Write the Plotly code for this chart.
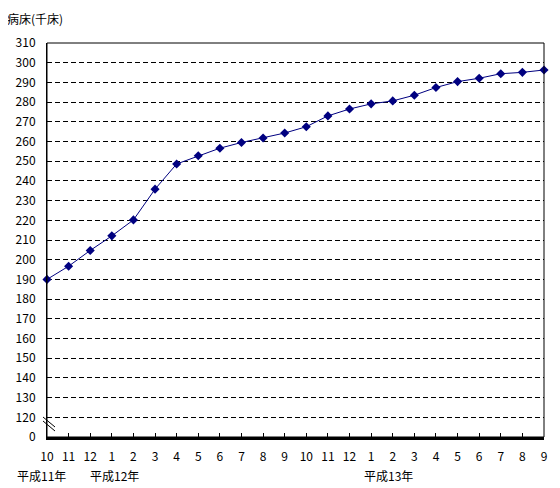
import plotly.graph_objects as go

month_labels = ["10", "11", "12", "1", "2", "3", "4", "5", "6", "7", "8", "9",
                "10", "11", "12", "1", "2", "3", "4", "5", "6", "7", "8", "9"]
beds = [190.0, 196.7, 204.7, 212.1, 220.2, 235.8, 248.6, 252.8, 256.6, 259.5,
        261.8, 264.3, 267.5, 273.0, 276.5, 279.1, 280.6, 283.5, 287.4, 290.4,
        292.1, 294.4, 295.1, 296.3]
ytick_vals = [110] + list(range(120, 311, 10))
ytick_text = ["0"] + [str(v) for v in range(120, 311, 10)]
year_labels = ["平成11年", "平成12年", "平成13年"]
title_text = "病床(千床)"

xs = list(range(len(beds)))
font = "Noto Sans CJK JP, sans-serif"

PW, PH = 497, 394  # plot area size in px

fig = go.Figure()
fig.add_trace(go.Scatter(
    x=xs, y=beds, mode="lines+markers",
    line=dict(color="#000080", width=1),
    marker=dict(symbol="diamond", size=7, color="#000080"),
    cliponaxis=False, showlegend=False, hoverinfo="skip"))

fig.update_layout(
    width=552, height=480,
    margin=dict(l=39, r=16, t=35, b=51, autoexpand=False),
    paper_bgcolor="white", plot_bgcolor="white",
    font=dict(family=font, size=12, color="black"),
    xaxis=dict(range=[0, 23], tickvals=xs, ticktext=month_labels,
               showgrid=False, zeroline=False, showline=True,
               linecolor="black", linewidth=3, ticks="inside", ticklen=4,
               tickcolor="black", tickwidth=1, tickangle=0,
               ticklabelstandoff=7, tickfont=dict(size=12)),
    yaxis=dict(range=[110, 310], tickvals=ytick_vals, ticktext=ytick_text,
               showgrid=True, gridcolor="black", gridwidth=1,
               griddash="5px,3px", zeroline=False, showline=True,
               linecolor="black", linewidth=1, ticks="", ticklabelstandoff=8,
               tickfont=dict(size=12)),
)

# plot frame (top & right)
fig.add_shape(type="rect", xref="paper", yref="paper", x0=0, x1=1, y0=0, y1=1,
              line=dict(color="black", width=1), layer="above")
# axis break marks on the left axis
for dy in (0, 4):
    fig.add_shape(type="line", xref="paper", yref="paper",
                  x0=-4 / PW, x1=8 / PW,
                  y0=(16 + dy) / PH, y1=(6 + dy) / PH,
                  line=dict(color="black", width=1))

fig.add_annotation(text=title_text, xref="paper", yref="paper",
                   x=-42 / PW, y=1 + 35 / PH, xanchor="left",
                   yanchor="top", showarrow=False, font=dict(size=12))
for lbl, px in zip(year_labels, [15, 88, 362]):
    fig.add_annotation(text=lbl, xref="paper", yref="paper",
                       x=(px - 47) / PW, y=-38 / PH,
                       xanchor="left", yanchor="middle", showarrow=False,
                       font=dict(size=12))

fig.write_html("out.html")
